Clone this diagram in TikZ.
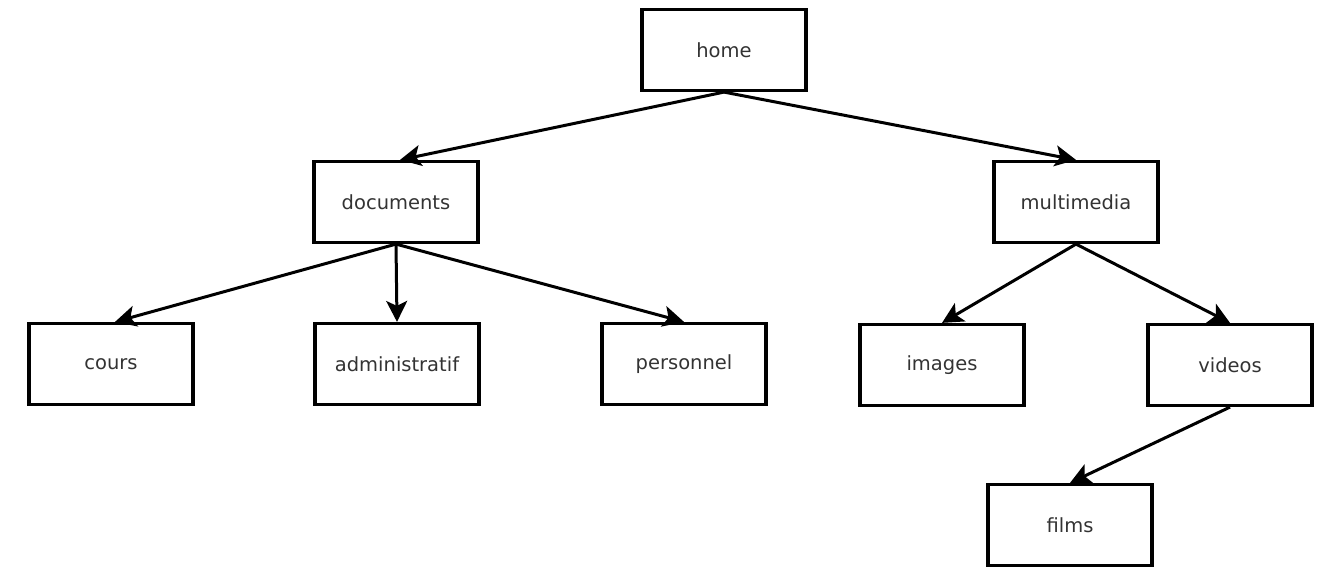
\documentclass[tikz,border=0pt]{standalone}
\usepackage{fontspec}
\setmainfont{DejaVu Sans}
\usetikzlibrary{arrows.meta}
\definecolor{txt}{HTML}{333333}
\begin{document}
\begin{tikzpicture}[x=1pt,y=-1pt,
  box/.style={draw=black, line width=3.2pt, minimum width=164pt, minimum height=81pt, inner sep=0pt,
    font=\fontsize{19.5}{23}\selectfont, text=txt},
  link/.style={line width=3pt, -{Stealth[length=21pt,width=21pt,inset=5pt]}}]
\useasboundingbox (0,0) rectangle (1338,588);
\node[box] (home) at (724,50) {home};
\node[box] (documents) at (396,202) {documents};
\node[box] (multimedia) at (1076,202) {multimedia};
\node[box] (cours) at (111,364) {cours};
\node[box] (admin) at (397,364) {administratif};
\node[box] (personnel) at (684,364) {personnel};
\node[box] (images) at (942,365) {images};
\node[box] (videos) at (1230,365) {videos};
\node[box] (films) at (1070,525) {films};
\draw[link] (home.south) -- ([xshift=4pt]documents.north);
\draw[link] (home.south) -- (multimedia.north);
\draw[link] (documents.south) -- ([xshift=4pt]cours.north);
\draw[link] (documents.south) -- (admin.north);
\draw[link] (documents.south) -- (personnel.north);
\draw[link] (multimedia.south) -- (images.north);
\draw[link] (multimedia.south) -- (videos.north);
\draw[link] (videos.south) -- (films.north);
\end{tikzpicture}
\end{document}
